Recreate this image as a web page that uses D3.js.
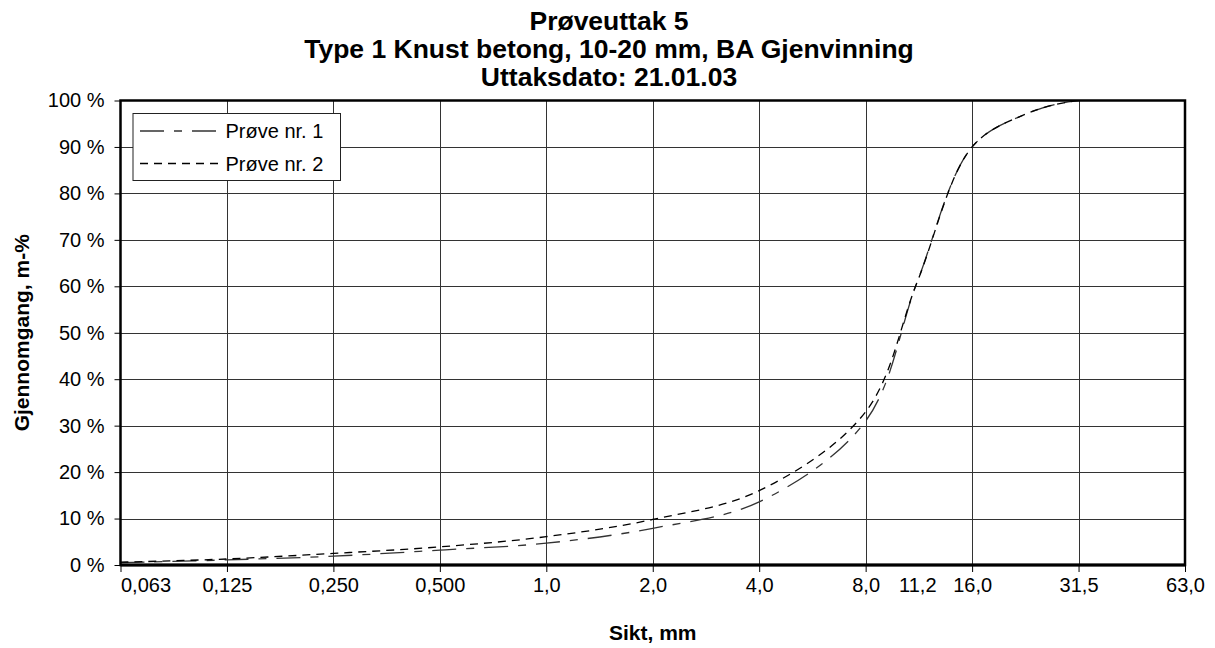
<!DOCTYPE html>
<html>
<head>
<meta charset="utf-8">
<script src="https://cdn.jsdelivr.net/npm/d3@7"></script>
<style>
  html, body { margin: 0; padding: 0; background: #fff; }
  svg { display: block; }
  text { font-family: "Liberation Sans", Arial, sans-serif; fill: #000; }
</style>
</head>
<body>
<svg id="chart" width="1215" height="648"></svg>
<script>
// ---------------- data ----------------
const titleLines = ["Prøveuttak 5", "Type 1 Knust betong, 10-20 mm, BA Gjenvinning", "Uttaksdato: 21.01.03"];
const xTitle = "Sikt, mm";
const yTitle = "Gjennomgang, m-%";

// sieve sizes (mm) used as gridlines
const gridSieves = [0.063, 0.125, 0.25, 0.5, 1, 2, 4, 8, 16, 31.5, 63];
// tick labels under the axis
const labelValues = [0.063, 0.125, 0.25, 0.5, 1, 2, 4, 8, 11.2, 16, 31.5, 63];
const labelTexts  = ["0,063", "0,125", "0,250", "0,500", "1,0", "2,0", "4,0", "8,0", "11,2", "16,0", "31,5", "63,0"];

const yTicks = [0, 10, 20, 30, 40, 50, 60, 70, 80, 90, 100];

// measured sieves and passing percentages
const sieves = [0.063, 0.125, 0.25, 0.5, 1, 2, 4, 8, 11.2, 16, 22.4, 31.5, 63];
const prove1 = [0.5, 1.1, 1.9, 3.2, 4.7, 7.9, 13.6, 31, 61, 90, 97, 100, 100];
const prove2 = [0.6, 1.3, 2.5, 3.9, 6.1, 9.8, 16.0, 33, 61, 90, 97, 100, 100];
const seriesNames = ["Prøve nr. 1", "Prøve nr. 2"];

// ---------------- layout ----------------
const svg = d3.select("#chart");
const plot = { left: 120.5, right: 1185, top: 100.5, bottom: 565 };

const gridRange = gridSieves.map((d, i) => plot.left + i * (plot.right - plot.left) / (gridSieves.length - 1));
const x = d3.scaleLog().domain(gridSieves).range(gridRange);
const y = d3.scaleLinear().domain([0, 100]).range([plot.bottom, plot.top]);

svg.append("defs").append("clipPath").attr("id", "plotclip")
  .append("rect").attr("x", plot.left).attr("y", plot.top)
  .attr("width", plot.right - plot.left).attr("height", plot.bottom - plot.top);

// ---------------- titles ----------------
const title = svg.append("text")
  .attr("text-anchor", "middle")
  .attr("font-weight", "bold")
  .attr("font-size", 26.5);
titleLines.forEach((t, i) => {
  title.append("tspan").attr("x", 609).attr("y", 29.5 + i * 28.3).text(t);
});

svg.append("text")
  .attr("text-anchor", "middle")
  .attr("font-weight", "bold")
  .attr("font-size", 21)
  .attr("x", (plot.left + plot.right) / 2)
  .attr("y", 640)
  .text(xTitle);

svg.append("text")
  .attr("text-anchor", "middle")
  .attr("font-weight", "bold")
  .attr("font-size", 21)
  .attr("transform", `translate(28.5,${(plot.top + plot.bottom) / 2}) rotate(-90)`)
  .text(yTitle);

// ---------------- grid ----------------
const grid = svg.append("g").attr("stroke", "#333").attr("stroke-width", 1);
grid.selectAll("line.h").data(yTicks.slice(1, -1)).join("line")
  .attr("x1", plot.left).attr("x2", plot.right)
  .attr("y1", d => Math.round(y(d)) + 0.5).attr("y2", d => Math.round(y(d)) + 0.5);
grid.selectAll("line.v").data(gridSieves.slice(1, -1)).join("line")
  .attr("y1", plot.top).attr("y2", plot.bottom)
  .attr("x1", d => Math.round(x(d)) + 0.5).attr("x2", d => Math.round(x(d)) + 0.5);

// ---------------- axes ----------------
const yAxis = svg.append("g")
  .attr("transform", `translate(${plot.left},0)`)
  .call(d3.axisLeft(y).tickValues(yTicks).tickSize(6).tickPadding(10).tickFormat(d => d + " %"));
yAxis.select(".domain").remove();
yAxis.selectAll("text").attr("font-size", 20).attr("font-family", "Liberation Sans, Arial, sans-serif").attr("fill", "#000");
yAxis.selectAll("line").attr("stroke", "#000");

const xTickAxis = svg.append("g")
  .attr("transform", `translate(0,${plot.bottom})`)
  .call(d3.axisBottom(x).tickValues(gridSieves).tickSize(7).tickFormat(""));
xTickAxis.select(".domain").remove();
xTickAxis.selectAll("line").attr("stroke", "#000");

const xLabelAxis = svg.append("g")
  .attr("transform", `translate(0,${plot.bottom})`)
  .call(d3.axisBottom(x).tickValues(labelValues).tickSize(0).tickPadding(13)
    .tickFormat((d, i) => labelTexts[i]));
xLabelAxis.select(".domain").remove();
xLabelAxis.selectAll("text").attr("font-size", 20).attr("font-family", "Liberation Sans, Arial, sans-serif").attr("fill", "#000");
xLabelAxis.selectAll("text").filter((d, i) => i === 0).attr("text-anchor", "start");

// ---------------- series ----------------
const line = d3.line()
  .x(d => x(d[0]))
  .y(d => y(d[1]))
  .curve(d3.curveCatmullRom.alpha(0.5));

const dashes = ["24,10,8,10", "8,6"];
const colors = ["#333", "#000"];
const seriesG = svg.append("g").attr("clip-path", "url(#plotclip)");
[prove1, prove2].forEach((vals, k) => {
  seriesG.append("path")
    .datum(sieves.map((s, i) => [s, vals[i]]))
    .attr("fill", "none")
    .attr("stroke", colors[k])
    .attr("stroke-width", 1.3)
    .attr("stroke-dasharray", dashes[k])
    .attr("d", line);
});

// ---------------- plot border ----------------
svg.append("rect")
  .attr("x", plot.left).attr("y", plot.top)
  .attr("width", plot.right - plot.left).attr("height", plot.bottom - plot.top)
  .attr("fill", "none").attr("stroke", "#000").attr("stroke-width", 2.5);
svg.append("line")
  .attr("x1", plot.left).attr("x2", plot.right)
  .attr("y1", plot.bottom).attr("y2", plot.bottom)
  .attr("stroke", "#000").attr("stroke-width", 3);

// ---------------- legend ----------------
const lg = svg.append("g").attr("transform", "translate(133,113.5)");
lg.append("rect").attr("width", 207.5).attr("height", 67)
  .attr("fill", "#fff").attr("stroke", "#222").attr("stroke-width", 1);
seriesNames.forEach((n, k) => {
  const yy = 17.5 + k * 32.5;
  lg.append("line").attr("x1", 7).attr("x2", 87).attr("y1", yy).attr("y2", yy)
    .attr("stroke", colors[k]).attr("stroke-width", 1.3).attr("stroke-dasharray", dashes[k]);
  lg.append("text").attr("x", 92.5).attr("y", yy).attr("dy", "0.35em")
    .attr("font-size", 20).text(n);
});
</script>
</body>
</html>
